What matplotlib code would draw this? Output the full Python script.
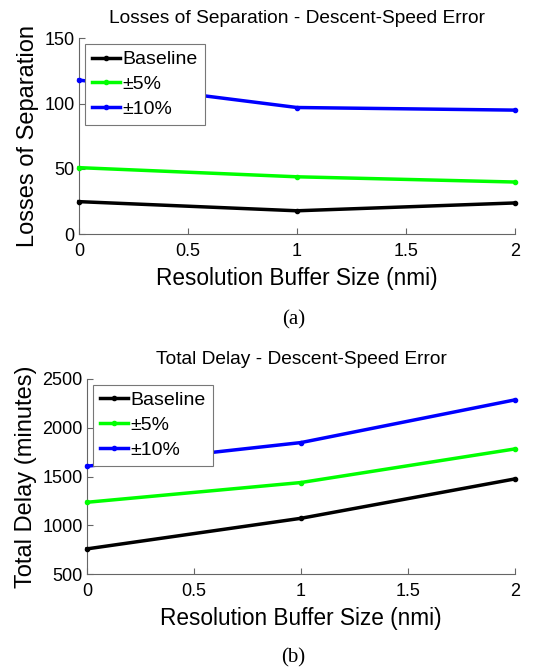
import numpy as np
import matplotlib.pyplot as plt

buffer_nmi = [0, 1, 2]
series_names = ["Baseline", "\u00b15%", "\u00b110%"]
series_colors = ["black", "#00ff00", "#0000ff"]

los_baseline = [25, 18, 24]
los_5 = [51, 44, 40]
los_10 = [118, 97, 95]

delay_baseline = [760, 1073, 1476]
delay_5 = [1237, 1439, 1783]
delay_10 = [1606, 1848, 2285]

plt.rcParams['font.family'] = ['Liberation Sans', 'DejaVu Sans']


def draw_panel(ax, series, title, ylabel, yticks, ylim):
    for vals, name, col in zip(series, series_names, series_colors):
        ax.plot(buffer_nmi, vals, color=col, lw=2.5, marker='.', ms=6,
                label=name, clip_on=False, zorder=3)
    ax.set_xlim(0, 2)
    ax.set_ylim(*ylim)
    ax.set_xticks([0, 0.5, 1, 1.5, 2])
    ax.set_xticklabels(["0", "0.5", "1", "1.5", "2"])
    ax.set_yticks(yticks)
    ax.tick_params(direction='in', labelsize=13, length=4, color='#666666')
    ax.tick_params(axis='x', pad=6.5)
    ax.tick_params(axis='y', pad=3)
    for s in ['top', 'right']:
        ax.spines[s].set_visible(False)
    for s in ['left', 'bottom']:
        ax.spines[s].set_color('#666666')
        ax.spines[s].set_linewidth(0.8)
    ax.set_title(title, fontsize=13.8, pad=11)
    ax.set_xlabel("Resolution Buffer Size (nmi)", fontsize=16.3, labelpad=5)
    ax.set_ylabel(ylabel, fontsize=17, labelpad=4)
    leg = ax.legend(loc='upper left', fontsize=14, frameon=True, fancybox=False,
                    framealpha=1, handlelength=1.45, handletextpad=0.15,
                    borderpad=0.35, labelspacing=0.37, borderaxespad=0.3,
                    bbox_to_anchor=(0.0, 1.0))
    leg.get_frame().set_edgecolor('#777777')
    leg.get_frame().set_linewidth(0.8)
    leg.set_zorder(5)


fig = plt.figure(figsize=(5.37, 6.67), dpi=100)

ax1 = fig.add_axes([0.147, 0.6487, 0.812, 0.294])
draw_panel(ax1, [los_baseline, los_5, los_10],
           "Losses of Separation - Descent-Speed Error",
           "Losses of Separation", [0, 50, 100, 150], (0, 150))

ax2 = fig.add_axes([0.162, 0.139, 0.797, 0.293])
draw_panel(ax2, [delay_baseline, delay_5, delay_10],
           "Total Delay - Descent-Speed Error",
           "Total Delay (minutes)", [500, 1000, 1500, 2000, 2500], (500, 2500))

fig.text(0.546, 1 - 320 / 667, "(a)", ha='center', va='center', fontsize=15,
         family='Liberation Serif')
fig.text(0.546, 1 - 658 / 667, "(b)", ha='center', va='center', fontsize=15,
         family='Liberation Serif')

fig.savefig("out.png", dpi=100)
